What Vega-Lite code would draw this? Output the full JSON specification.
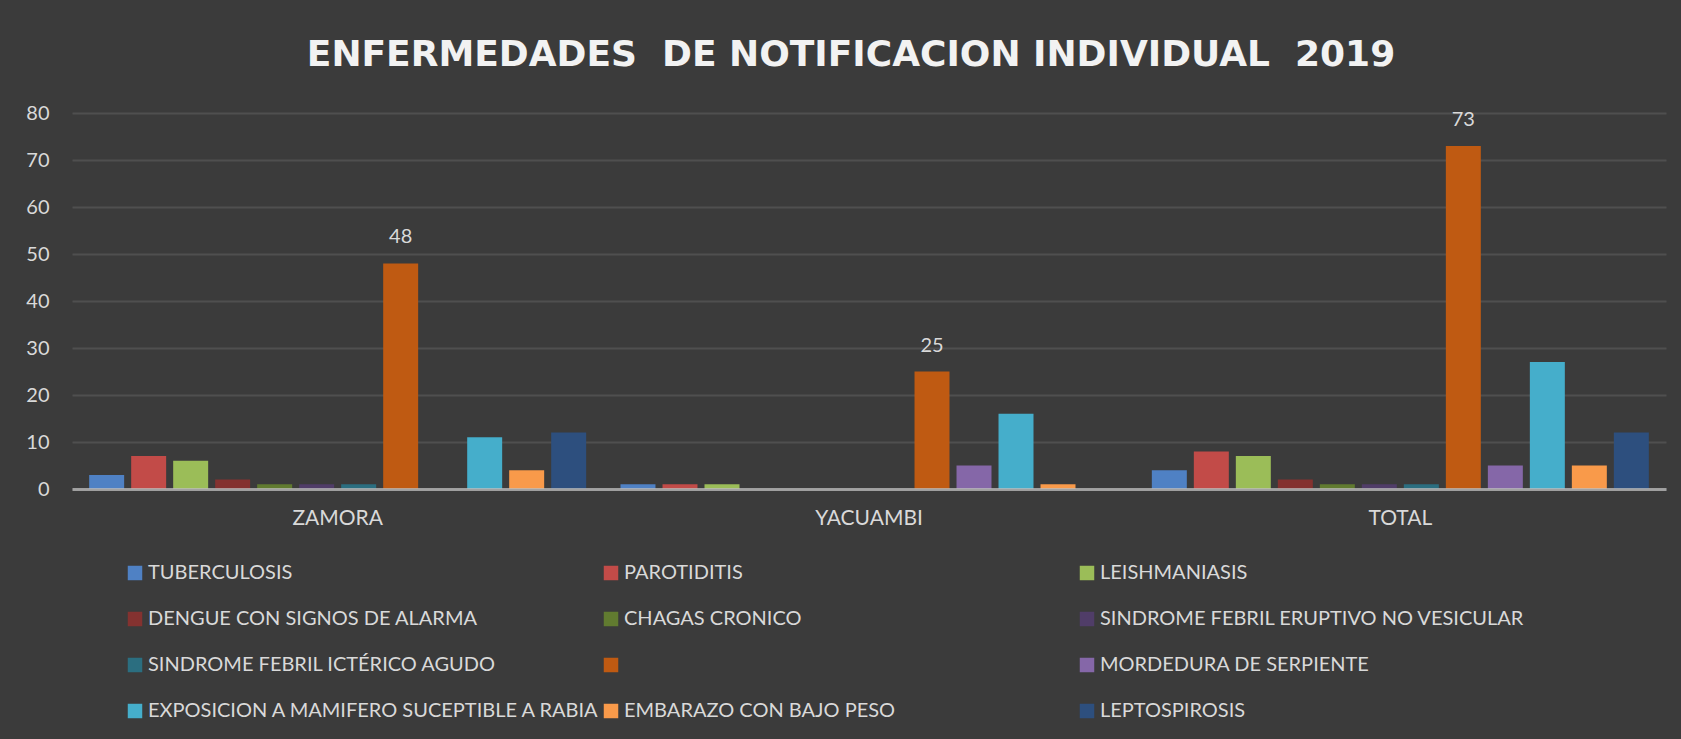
{
  "$schema": "https://vega.github.io/schema/vega-lite/v6.json",
  "width": 1594,
  "height": 376,
  "autosize": {"type": "none"},
  "padding": {"left": 72, "top": 113, "right": 15, "bottom": 250},
  "background": "#3b3b3b",
  "title": {
    "text": "ENFERMEDADES\u00a0 DE NOTIFICACION INDIVIDUAL\u00a0 2019",
    "font": "DejaVu Sans",
    "fontSize": 36,
    "fontWeight": "bold",
    "color": "#f2f2f2",
    "anchor": "middle",
    "frame": "group",
    "baseline": "alphabetic",
    "dx": -18,
    "offset": 1
  },
  "config": {
    "view": {"stroke": null},
    "font": "Lato",
    "axis": {"labelFont": "Lato", "labelColor": "#d9d9d9"},
    "legend": {
      "orient": "none",
      "direction": "horizontal",
      "legendX": 53,
      "legendY": 450,
      "columns": 3,
      "gridAlign": "all",
      "columnPadding": -8,
      "rowPadding": 26,
      "padding": 0,
      "symbolType": "square",
      "symbolSize": 210,
      "symbolStrokeWidth": 0,
      "symbolOpacity": 1,
      "labelFont": "Lato",
      "labelFontSize": 20,
      "labelColor": "#d9d9d9",
      "labelOffset": 3,
      "labelLimit": 800,
      "title": null
    }
  },
  "data": {
    "values": [
      {"region": "ZAMORA", "disease": "TUBERCULOSIS", "value": 3},
      {"region": "ZAMORA", "disease": "PAROTIDITIS", "value": 7},
      {"region": "ZAMORA", "disease": "LEISHMANIASIS", "value": 6},
      {"region": "ZAMORA", "disease": "DENGUE CON SIGNOS DE ALARMA", "value": 2},
      {"region": "ZAMORA", "disease": "CHAGAS CRONICO", "value": 1},
      {"region": "ZAMORA", "disease": "SINDROME FEBRIL ERUPTIVO NO VESICULAR", "value": 1},
      {"region": "ZAMORA", "disease": "SINDROME FEBRIL ICTÉRICO AGUDO", "value": 1},
      {"region": "ZAMORA", "disease": " ", "value": 48},
      {"region": "ZAMORA", "disease": "EXPOSICION A MAMIFERO SUCEPTIBLE A RABIA", "value": 11},
      {"region": "ZAMORA", "disease": "EMBARAZO CON BAJO PESO", "value": 4},
      {"region": "ZAMORA", "disease": "LEPTOSPIROSIS", "value": 12},
      {"region": "YACUAMBI", "disease": "TUBERCULOSIS", "value": 1},
      {"region": "YACUAMBI", "disease": "PAROTIDITIS", "value": 1},
      {"region": "YACUAMBI", "disease": "LEISHMANIASIS", "value": 1},
      {"region": "YACUAMBI", "disease": " ", "value": 25},
      {"region": "YACUAMBI", "disease": "MORDEDURA DE SERPIENTE", "value": 5},
      {"region": "YACUAMBI", "disease": "EXPOSICION A MAMIFERO SUCEPTIBLE A RABIA", "value": 16},
      {"region": "YACUAMBI", "disease": "EMBARAZO CON BAJO PESO", "value": 1},
      {"region": "TOTAL", "disease": "TUBERCULOSIS", "value": 4},
      {"region": "TOTAL", "disease": "PAROTIDITIS", "value": 8},
      {"region": "TOTAL", "disease": "LEISHMANIASIS", "value": 7},
      {"region": "TOTAL", "disease": "DENGUE CON SIGNOS DE ALARMA", "value": 2},
      {"region": "TOTAL", "disease": "CHAGAS CRONICO", "value": 1},
      {"region": "TOTAL", "disease": "SINDROME FEBRIL ERUPTIVO NO VESICULAR", "value": 1},
      {"region": "TOTAL", "disease": "SINDROME FEBRIL ICTÉRICO AGUDO", "value": 1},
      {"region": "TOTAL", "disease": " ", "value": 73},
      {"region": "TOTAL", "disease": "MORDEDURA DE SERPIENTE", "value": 5},
      {"region": "TOTAL", "disease": "EXPOSICION A MAMIFERO SUCEPTIBLE A RABIA", "value": 27},
      {"region": "TOTAL", "disease": "EMBARAZO CON BAJO PESO", "value": 5},
      {"region": "TOTAL", "disease": "LEPTOSPIROSIS", "value": 12}
    ]
  },
  "encoding": {
    "x": {
      "field": "region",
      "type": "nominal",
      "sort": ["ZAMORA", "YACUAMBI", "TOTAL"],
      "scale": {"paddingInner": 0.0646, "paddingOuter": 0.0323},
      "axis": {
        "title": null,
        "labelAngle": 0,
        "labelFontSize": 21,
        "labelPadding": 18,
        "ticks": false,
        "tickSize": 0,
        "grid": false,
        "domainColor": "#bdbdbd",
        "domainOpacity": 0.75,
        "domainWidth": 3,
        "zindex": 1
      }
    },
    "xOffset": {
      "field": "disease",
      "type": "nominal",
      "scale": {
        "domain": ["TUBERCULOSIS", "PAROTIDITIS", "LEISHMANIASIS", "DENGUE CON SIGNOS DE ALARMA", "CHAGAS CRONICO", "SINDROME FEBRIL ERUPTIVO NO VESICULAR", "SINDROME FEBRIL ICTÉRICO AGUDO", " ", "MORDEDURA DE SERPIENTE", "EXPOSICION A MAMIFERO SUCEPTIBLE A RABIA", "EMBARAZO CON BAJO PESO", "LEPTOSPIROSIS"],
        "paddingInner": 0.167,
        "paddingOuter": 0
      }
    },
    "y": {
      "field": "value",
      "type": "quantitative",
      "scale": {"domain": [0, 80], "nice": false},
      "axis": {
        "title": null,
        "values": [0, 10, 20, 30, 40, 50, 60, 70, 80],
        "labelFontSize": 20,
        "labelPadding": 23,
        "ticks": false,
        "tickSize": 0,
        "domain": false,
        "grid": true,
        "gridColor": "#ffffff",
        "gridOpacity": 0.1,
        "gridWidth": 2
      }
    }
  },
  "layer": [
    {
      "mark": {"type": "bar"},
      "encoding": {
        "color": {
          "field": "disease",
          "type": "nominal",
          "scale": {
            "domain": ["TUBERCULOSIS", "PAROTIDITIS", "LEISHMANIASIS", "DENGUE CON SIGNOS DE ALARMA", "CHAGAS CRONICO", "SINDROME FEBRIL ERUPTIVO NO VESICULAR", "SINDROME FEBRIL ICTÉRICO AGUDO", " ", "MORDEDURA DE SERPIENTE", "EXPOSICION A MAMIFERO SUCEPTIBLE A RABIA", "EMBARAZO CON BAJO PESO", "LEPTOSPIROSIS"],
            "range": ["#4f81c4", "#c24b48", "#9bbd58", "#843230", "#617b30", "#503d68", "#2b6e80", "#bf5a12", "#8567a8", "#45aecb", "#f99a4a", "#2d4f7e"]
          }
        }
      }
    },
    {
      "transform": [{"filter": "datum.disease === ' '"}],
      "mark": {"type": "text", "baseline": "middle", "dy": -26, "fontSize": 20, "font": "Lato", "color": "#d9d9d9"},
      "encoding": {"text": {"field": "value", "type": "quantitative"}}
    }
  ]
}
